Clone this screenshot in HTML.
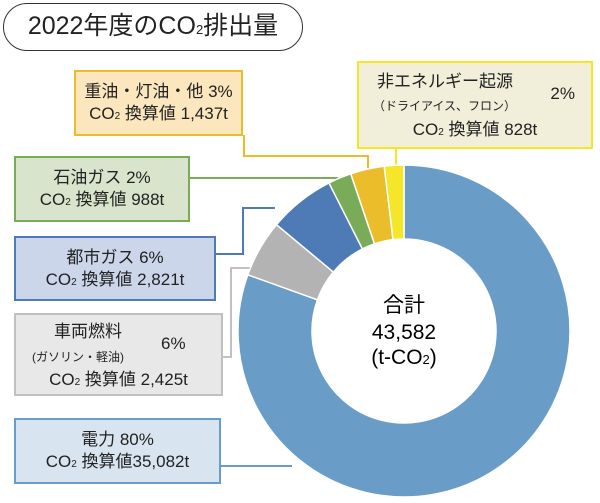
<!DOCTYPE html>
<html><head><meta charset="utf-8">
<style>
body{margin:0;width:600px;height:503px;background:#fff;overflow:hidden;position:relative;font-family:"Liberation Sans","Noto Sans CJK JP",sans-serif;color:#222}
.box{position:absolute;box-sizing:border-box;border:2px solid;text-align:center;font-size:17px;line-height:22px}
sub{font-size:10px;vertical-align:baseline}
svg{position:absolute;left:0;top:0}
</style></head><body>
<div style="position:absolute;left:3px;top:3px;width:300px;height:48px;box-sizing:border-box;border:1.5px solid #333;border-radius:24px;font-size:25px;line-height:45px;text-align:center">2022年度のCO<sub style="font-size:13px">2</sub>排出量</div>
<svg width="600" height="503">
<g id="lines" fill="none" stroke-width="2">
<polyline points="244,135 244,156 368,156 368,168" stroke="#ebbd2b"/>
<polyline points="396,148 396,167" stroke="#f5e62a"/>
<polyline points="189,178 338,178" stroke="#7aab58"/>
<polyline points="215,254 243,254 243,208 275,208" stroke="#4e7ab5"/>
<polyline points="222,357 231,357 231,268 252,268" stroke="#c0c0c0"/>
<polyline points="220,466 292,466" stroke="#6a9cc8"/>
</g>
<g id="slices"></g>
<text x="404" y="312" text-anchor="middle" font-size="21">合計</text>
<text x="404" y="339" text-anchor="middle" font-size="21">43,582</text>
<text x="404" y="364" text-anchor="middle" font-size="21">(t-CO<tspan font-size="13">2</tspan>)</text>
</svg>
<div class="box" style="left:74px;top:70px;width:169px;height:66px;background:#fbe6bd;border-color:#ebbd2b;padding-top:9px">重油・灯油・他 3%<br>CO<sub>2</sub> 換算値 1,437t</div>
<div class="box" style="left:357px;top:61px;width:236px;height:88px;background:#f1eeda;border-color:#f5e62a;padding-top:8px"><span style="position:absolute;left:18px;top:8px">非エネルギー起源</span><span style="position:absolute;right:16px;top:20px">2%</span><span style="position:absolute;left:14px;top:32px;font-size:12px">（ドライアイス、フロン）</span><span style="position:absolute;left:0;right:0;top:56px">CO<sub>2</sub> 換算値 828t</span></div>
<div class="box" style="left:14px;top:156px;width:176px;height:66px;background:#d8e4cc;border-color:#7aab58;padding-top:9px">石油ガス 2%<br>CO<sub>2</sub> 換算値 988t</div>
<div class="box" style="left:14px;top:236px;width:202px;height:65px;background:#ccd6ea;border-color:#4e7ab5;padding-top:9px">都市ガス 6%<br>CO<sub>2</sub> 換算値 2,821t</div>
<div class="box" style="left:14px;top:313px;width:209px;height:83px;background:#e8e8e8;border-color:#c0c0c0"><span style="position:absolute;left:38px;top:6px">車両燃料</span><span style="position:absolute;left:145px;top:18px">6%</span><span style="position:absolute;left:16px;top:31px;font-size:12px">(ガソリン・軽油)</span><span style="position:absolute;left:0;right:0;top:54px">CO<sub>2</sub> 換算値 2,425t</span></div>
<div class="box" style="left:14px;top:418px;width:207px;height:66px;background:#d8e4f0;border-color:#6a9cc8;padding-top:9px">電力 80%<br>CO<sub>2</sub> 換算値35,082t</div>
<script>
const categories=["電力","車両燃料","都市ガス","石油ガス","重油・灯油・他","非エネルギー起源"];
const values=[35082,2425,2821,988,1437,828];
const colors=["#6a9cc8","#b3b3b3","#4e7ab5","#7aab58","#ebbd2b","#f5e62a"];
const cx=404,cy=331,R=166,r=92;
const total=values.reduce((a,b)=>a+b,0);
const g=document.getElementById('slices');
function pt(a,rad){return [cx+rad*Math.sin(a),cy-rad*Math.cos(a)];}
let a0=0;
values.forEach((v,i)=>{
  const a1=a0+v/total*2*Math.PI;
  const large=(a1-a0)>Math.PI?1:0;
  const p1=pt(a0,R),p2=pt(a1,R),p3=pt(a1,r),p4=pt(a0,r);
  const p=document.createElementNS('http://www.w3.org/2000/svg','path');
  p.setAttribute('d',`M${p1[0]},${p1[1]}A${R},${R} 0 ${large} 1 ${p2[0]},${p2[1]}L${p3[0]},${p3[1]}A${r},${r} 0 ${large} 0 ${p4[0]},${p4[1]}Z`);
  p.setAttribute('fill',colors[i]);
  p.setAttribute('stroke','#fff');
  p.setAttribute('stroke-width','1.5');
  
  
  g.appendChild(p);
  a0=a1;
});
</script>
</body></html>
